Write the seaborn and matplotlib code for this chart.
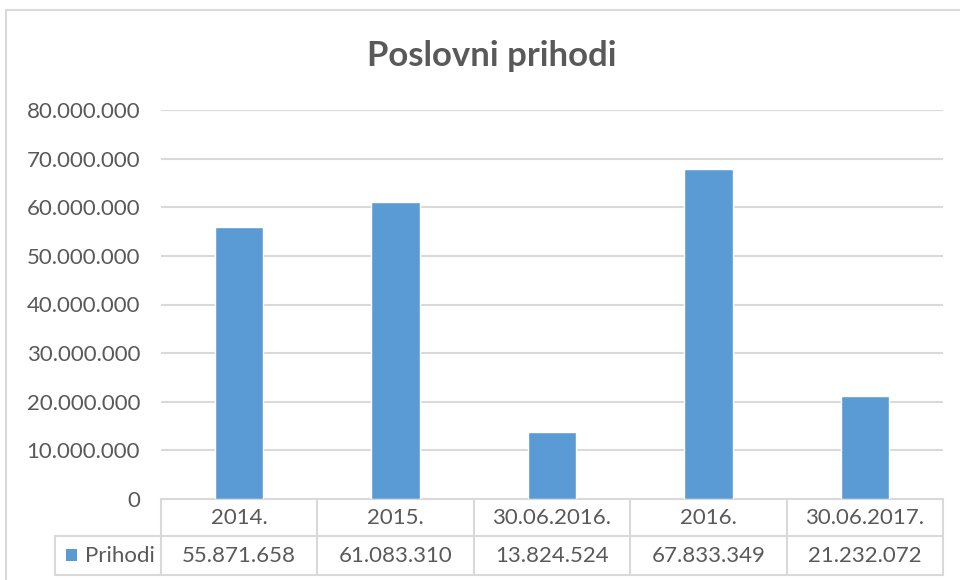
import numpy as np
import pandas as pd
import seaborn as sns
import matplotlib.pyplot as plt
from matplotlib.ticker import FuncFormatter
from matplotlib.patches import Rectangle
from matplotlib.lines import Line2D
import matplotlib.transforms as mtransforms

# PODACI
categories = ["2014.", "2015.", "30.06.2016.", "2016.", "30.06.2017."]
prihodi = [55871658, 61083310, 13824524, 67833349, 21232072]
series_name = "Prihodi"
title = "Poslovni prihodi"

sns.set_theme(style="white")
plt.rcParams["font.family"] = ["Lato", "DejaVu Sans"]

bar_color = "#5B9BD5"
text_color = "#595959"
grid_color = "#D9D9D9"
fs = 16

df = pd.DataFrame({"Period": categories, "Iznos": prihodi})


def dotted(v):
    return f"{v:,.0f}".replace(",", ".")


fig = plt.figure(figsize=(9.6, 5.8), dpi=100)
W, H = 960, 580
ax = fig.add_axes([161 / W, 1 - 499 / H, (943 - 161) / W, (499 - 110) / H])

sns.barplot(data=df, x="Period", y="Iznos", color=bar_color, width=0.31,
            saturation=1, ax=ax, zorder=3)

ax.set_xlim(-0.5, len(categories) - 0.5)
ax.set_ylim(0, 80000000)
ax.set_yticks(np.arange(0, 80000001, 10000000))
ax.yaxis.set_major_formatter(FuncFormatter(lambda v, p: dotted(v)))
ax.tick_params(axis="y", length=0, pad=15, labelsize=fs, labelcolor=text_color)
ax.set_xticks([])
ax.set_xlabel("")
ax.set_ylabel("")
ax.yaxis.grid(True, color=grid_color, linewidth=1.5, zorder=0)
for s in ["top", "right", "left", "bottom"]:
    ax.spines[s].set_visible(False)

fig.text(492 / W, 1 - 56 / H, title, ha="center", va="center", fontsize=25,
         fontweight="bold", color=text_color)

# tablica podataka ispod grafa
trans = mtransforms.blended_transform_factory(ax.transData, ax.transAxes)
px = 1 / (499 - 110)
y_top, y_mid, y_bot = 0, -(536 - 499) * px, -(575 - 499) * px
n = len(categories)
x_leg = -0.5 - (161 - 55) / (943 - 161) * n
lkw = dict(color=grid_color, linewidth=1.5, transform=trans, clip_on=False)
ax.add_line(Line2D([-0.5, n - 0.5], [y_top, y_top], **lkw))
ax.add_line(Line2D([x_leg, n - 0.5], [y_mid, y_mid], **lkw))
ax.add_line(Line2D([x_leg, n - 0.5], [y_bot, y_bot], **lkw))
ax.add_line(Line2D([x_leg, x_leg], [y_mid, y_bot], **lkw))
for i in range(n + 1):
    ax.add_line(Line2D([i - 0.5, i - 0.5], [y_top, y_bot], **lkw))

for i, (c, v) in enumerate(zip(categories, prihodi)):
    ax.text(i, (y_top + y_mid) / 2, c, transform=trans, ha="center", va="center",
            fontsize=fs, color=text_color)
    ax.text(i, (y_mid + y_bot) / 2, dotted(v), transform=trans, ha="center",
            va="center", fontsize=fs, color=text_color)

# legenda u tablici
fig.add_artist(Rectangle((66 / W, 1 - 561 / H), 11 / W, 12 / H,
                         facecolor=bar_color, edgecolor="none"))
fig.text(85 / W, 1 - 555.5 / H, series_name, ha="left", va="center",
         fontsize=fs, color=text_color)

# okvir grafa
fig.add_artist(Rectangle((6 / W, -0.05), 1.1, 1 - 10 / H + 0.05,
                         facecolor="none", edgecolor=grid_color, linewidth=1.5))

fig.savefig("out.png", dpi=100)
